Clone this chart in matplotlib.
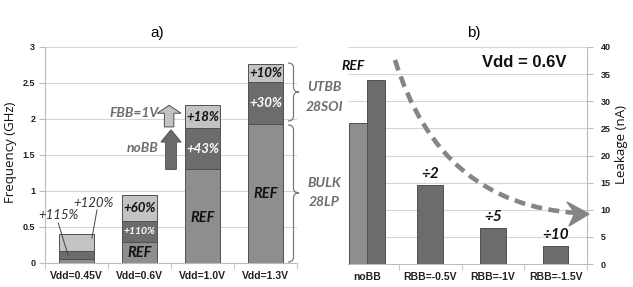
import matplotlib
matplotlib.use("Agg")
import matplotlib.pyplot as plt
import numpy as np
from matplotlib.path import Path
from matplotlib.patches import PathPatch, FancyArrow, Polygon

# ---------------- data ----------------
freq_cats = ['Vdd=0.45V', 'Vdd=0.6V', 'Vdd=1.0V', 'Vdd=1.3V']
freq_ref = [0.06, 0.29, 1.30, 1.93]          # REF (bottom segment top)
freq_mid = [0.16, 0.58, 1.87, 2.51]          # after first boost (cumulative)
freq_top = [0.40, 0.94, 2.19, 2.76]          # after second boost (cumulative)
mid_labels = ['', '+110%', '+43%', '+30%']
top_labels = ['', '+60%', '+18%', '+10%']
ref_labels = ['', 'REF', 'REF', 'REF']
freq_yticks = [0, 0.5, 1, 1.5, 2, 2.5, 3]

leak_cats = ['noBB', 'RBB=-0.5V', 'RBB=-1V', 'RBB=-1.5V']
leak_bulk_nobb = 26.0
leak_vals = [34.0, 14.5, 6.6, 3.3]
leak_ratio = ['', '÷2', '÷5', '÷10']
leak_yticks = [0, 5, 10, 15, 20, 25, 30, 35, 40]

# ---------------- style ----------------
C_MED = '#8e8e8e'
C_DARK = '#6c6c6c'
C_LIGHT = '#c3c3c3'
C_EDGE = '#505050'
C_GRID = '#d6d6d6'
C_AX = '#bdbdbd'
C_TXT = '#6e6e6e'
FONT = 'Lato'
TFONT = 'Liberation Sans'

W, H = 633, 287
fig = plt.figure(figsize=(W / 100, H / 100), dpi=100)


def ax_rect(x0, y0, x1, y1):
    return [x0 / W, 1 - y1 / H, (x1 - x0) / W, (y1 - y0) / H]


# ---------------- left chart ----------------
axL = fig.add_axes(ax_rect(45, 47, 297, 263))
x = np.arange(len(freq_cats))
bw = 0.56
ref = np.array(freq_ref)
mid = np.array(freq_mid)
top = np.array(freq_top)
axL.bar(x, ref, bw, color=C_MED, edgecolor=C_EDGE, linewidth=0.7, zorder=3)
axL.bar(x, mid - ref, bw, bottom=ref, color=C_DARK, edgecolor=C_EDGE, linewidth=0.7, zorder=3)
axL.bar(x, top - mid, bw, bottom=mid, color=C_LIGHT, edgecolor=C_EDGE, linewidth=0.7, zorder=3)

axL.set_xlim(-0.5, 3.5)
axL.set_ylim(0, 3)
axL.set_yticks(freq_yticks)
axL.set_yticklabels(['0', '0.5', '1', '1.5', '2', '2.5', '3'])
axL.set_xticks(x)
axL.set_xticklabels(freq_cats)
axL.set_xticks([-0.5, 0.5, 1.5, 2.5, 3.5], minor=True)
axL.tick_params(axis='x', which='major', length=0, pad=6)
axL.tick_params(axis='x', which='minor', length=4, color=C_AX)
axL.tick_params(axis='y', length=4, color=C_AX, pad=3)
for lab in axL.get_xticklabels():
    lab.set_fontfamily(TFONT); lab.set_fontweight('bold'); lab.set_fontsize(7.5); lab.set_color('#222222')
for lab in axL.get_yticklabels():
    lab.set_fontfamily(TFONT); lab.set_fontweight('bold'); lab.set_fontsize(6.5); lab.set_color('#222222')
axL.yaxis.grid(True, color=C_GRID, linewidth=0.8, zorder=0)
axL.set_axisbelow(True)
for s in ['top', 'right']:
    axL.spines[s].set_visible(False)
axL.spines['left'].set_color(C_AX)
axL.spines['bottom'].set_color(C_AX)

ref_y = [0, 0.145, 0.62, 0.96]
for i in range(len(freq_cats)):
    if ref_labels[i]:
        axL.text(x[i], ref_y[i], ref_labels[i], ha='center', va='center', fontfamily=FONT,
                 fontweight='bold', style='italic', fontsize=10.5, color='#111111', zorder=5)
    if mid_labels[i]:
        axL.text(x[i], (ref[i] + mid[i]) / 2, mid_labels[i], ha='center', va='center',
                 fontfamily=FONT, fontweight='bold', style='italic',
                 fontsize=7.5 if i == 1 else 9.5, color='white', zorder=5)
    if top_labels[i]:
        axL.text(x[i], (mid[i] + top[i]) / 2, top_labels[i], ha='center', va='center',
                 fontfamily=FONT, fontweight='bold', style='italic', fontsize=9.5,
                 color='#111111', zorder=5)

# callouts on the first bar
axL.text(-0.29, 0.667, '+115%', ha='center', va='center', fontfamily=FONT,
         style='italic', fontsize=9.5, color='#333333', zorder=6)
axL.plot([-0.29, -0.135], [0.556, 0.111], color='#444444', lw=0.7, zorder=6)
axL.text(0.278, 0.833, '+120%', ha='center', va='center', fontfamily=FONT,
         style='italic', fontsize=9.5, color='#333333', zorder=6)
axL.plot([0.325, 0.246], [0.736, 0.347], color='#444444', lw=0.7, zorder=6)

# block arrows
axL.add_patch(FancyArrow(1.50, 1.30, 0, 0.55, width=0.17, head_width=0.32, head_length=0.17,
                         length_includes_head=True, fc=C_DARK, ec=C_EDGE, lw=0.7, zorder=4))
axL.add_patch(FancyArrow(1.47, 1.89, 0, 0.30, width=0.15, head_width=0.38, head_length=0.11,
                         length_includes_head=True, fc=C_LIGHT, ec=C_EDGE, lw=0.7, zorder=4))
axL.text(1.30, 2.08, 'FBB=1V', ha='right', va='center', fontfamily=FONT, style='italic',
         fontweight='bold', fontsize=10, color=C_TXT, zorder=6)
axL.text(1.30, 1.60, 'noBB', ha='right', va='center', fontfamily=FONT, style='italic',
         fontweight='bold', fontsize=10, color=C_TXT, zorder=6)

# ---------------- right chart ----------------
axR = fig.add_axes(ax_rect(336, 47, 587, 264))
xr = np.arange(len(leak_cats))
axR.bar(-0.15, leak_bulk_nobb, 0.29, color=C_MED, edgecolor=C_EDGE, linewidth=0.7, zorder=3)
axR.bar(0.14, leak_vals[0], 0.29, color=C_DARK, edgecolor=C_EDGE, linewidth=0.7, zorder=3)
axR.bar(xr[1:], leak_vals[1:], 0.41, color=C_DARK, edgecolor=C_EDGE, linewidth=0.7, zorder=3)
axR.set_xlim(-0.5, 3.5)
axR.set_ylim(0, 40)
axR.hlines(leak_yticks[1:], -0.31, 3.5, color=C_GRID, linewidth=0.8, zorder=0)
axR.yaxis.tick_right()
axR.set_yticks(leak_yticks)
axR.set_xticks(xr)
axR.set_xticklabels(leak_cats)
axR.set_xticks([0.5, 1.5, 2.5, 3.5], minor=True)
axR.tick_params(axis='x', which='major', length=0, pad=6)
axR.tick_params(axis='x', which='minor', length=4, color=C_AX)
axR.tick_params(axis='y', length=4, color=C_AX, pad=6)
for lab in axR.get_xticklabels():
    lab.set_fontfamily(TFONT); lab.set_fontweight('bold'); lab.set_fontsize(7.5); lab.set_color('#222222')
for lab in axR.get_yticklabels():
    lab.set_fontfamily(TFONT); lab.set_fontweight('bold'); lab.set_fontsize(6.5); lab.set_color('#222222')
for s in ['top', 'left']:
    axR.spines[s].set_visible(False)
axR.spines['right'].set_color(C_AX)
axR.spines['bottom'].set_color(C_AX)
axR.spines['bottom'].set_bounds(-0.31, 3.5)

axR.text(-0.23, 36.5, 'REF', ha='center', va='center', fontfamily=FONT, fontweight='bold',
         style='italic', fontsize=10, color='#111111')
for i in range(1, len(leak_cats)):
    axR.text(xr[i], leak_vals[i] + 2.0, leak_ratio[i], ha='center', va='center',
             fontfamily=FONT, fontweight='bold', style='italic', fontsize=11, color='#111111')
axR.text(2.5, 37.2, 'Vdd = 0.6V', ha='center', va='center', fontfamily=TFONT,
         fontweight='bold', fontsize=12, color='#111111')

# ---------------- overlay (pixel coords) ----------------
ov = fig.add_axes([0, 0, 1, 1], zorder=10)
ov.set_xlim(0, W)
ov.set_ylim(H, 0)
ov.axis('off')
ov.patch.set_alpha(0)


def brace(x0, x1, ytop, ybot, ymid):
    xm = (x0 + x1) / 2
    r = 5
    verts = [(x0, ytop), (xm, ytop), (xm, ytop + r),
             (xm, ymid - r), (xm, ymid), (x1, ymid),
             (xm, ymid), (xm, ymid + r),
             (xm, ybot - r), (xm, ybot), (x0, ybot)]
    codes = [Path.MOVETO, Path.CURVE3, Path.CURVE3,
             Path.LINETO, Path.CURVE3, Path.CURVE3,
             Path.CURVE3, Path.CURVE3,
             Path.LINETO, Path.CURVE3, Path.CURVE3]
    ov.add_patch(PathPatch(Path(verts, codes), fc='none', ec='#7a7a7a', lw=0.9))


brace(288, 299, 63, 121, 92)
brace(288, 299, 125, 262, 193)
for txt, yy in [('UTBB', 87), ('28SOI', 107), ('BULK', 183), ('28LP', 202)]:
    ov.text(324, yy, txt, ha='center', va='center', fontfamily=FONT, fontweight='bold',
            style='italic', fontsize=10, color=C_TXT)

# dashed curved arrow
curve = Path([(395, 60), (440, 205), (578, 213)], [Path.MOVETO, Path.CURVE3, Path.CURVE3])
ov.add_patch(PathPatch(curve, fc='none', ec='#858585', lw=3.3, linestyle=(0, (2.4, 1.4))))
ov.add_patch(Polygon([(589, 214), (567, 202), (575, 213), (569, 226)], closed=True,
                     fc='#858585', ec='#858585', lw=1))

# titles and axis labels
fig.text(157 / W, 1 - 33 / H, 'a)', ha='center', va='center', fontfamily=TFONT, fontsize=11)
fig.text(474 / W, 1 - 33 / H, 'b)', ha='center', va='center', fontfamily=TFONT, fontsize=11)
fig.text(11 / W, 1 - 152 / H, 'Frequency (GHz)', rotation=90, ha='center', va='center',
         fontfamily='Open Sans', fontsize=9.5, color='#111111')
fig.text(622 / W, 1 - 145 / H, 'Leakage (nA)', rotation=90, ha='center', va='center',
         fontfamily='Open Sans', fontsize=9.5, color='#111111')

fig.savefig('out.png', dpi=100)
